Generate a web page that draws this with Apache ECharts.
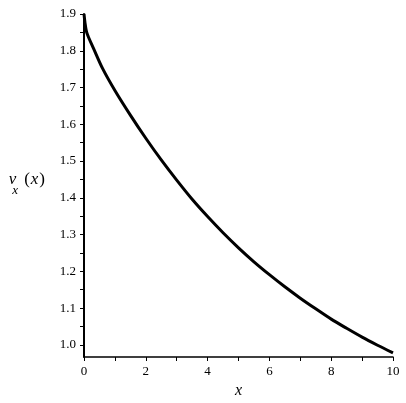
<!DOCTYPE html>
<html><head><meta charset="utf-8">
<script src="https://cdn.jsdelivr.net/npm/echarts@6/dist/echarts.min.js"></script>
<style>html,body{margin:0;padding:0;background:#fff}#c{width:406px;height:403px}</style>
</head><body><div id="c"></div>
<script>
// Data
const xValues = [0, 0.03, 0.08, 0.15, 0.3, 0.6, 1, 1.5, 2, 2.5, 3, 3.5, 4, 4.5, 5, 5.5, 6, 6.5, 7, 7.5, 8, 8.5, 9, 9.5, 10];
const vxValues = [1.900, 1.878, 1.852, 1.836, 1.808, 1.752, 1.692, 1.625, 1.562, 1.503, 1.448, 1.396, 1.349, 1.305, 1.264, 1.226, 1.191, 1.158, 1.127, 1.098, 1.070, 1.045, 1.021, 0.999, 0.978];
const yLabelTicks = [1.0, 1.1, 1.2, 1.3, 1.4, 1.5, 1.6, 1.7, 1.8, 1.9];
const yAllTicks = [1.0, 1.05, 1.1, 1.15, 1.2, 1.25, 1.3, 1.35, 1.4, 1.45, 1.5, 1.55, 1.6, 1.65, 1.7, 1.75, 1.8, 1.85, 1.9];
const xLabelTicks = [0, 2, 4, 6, 8, 10];
const yMin = 0.967, yMax = 1.9;

const FONT = 'Liberation Serif';
const chart = echarts.init(document.getElementById('c'), null, {renderer: 'canvas'});
chart.setOption({
  animation: false,
  backgroundColor: '#fff',
  grid: {left: 84, right: 13, top: 14, bottom: 46, containLabel: false, outerBoundsMode: 'none'},
  xAxis: {
    type: 'value', min: 0, max: 10, interval: 2,
    axisLine: {show: true, onZero: false, lineStyle: {color: '#000', width: 1.5}},
    axisTick: {show: true, length: 4, lineStyle: {color: '#000', width: 1}},
    minorTick: {show: true, splitNumber: 2, length: 4, lineStyle: {color: '#000', width: 1}},
    splitLine: {show: false},
    axisLabel: {color: '#000', fontFamily: FONT, fontSize: 13, margin: 8,
      customValues: xLabelTicks, formatter: v => String(v)},
    name: 'x', nameLocation: 'middle', nameGap: 24,
    nameTextStyle: {fontFamily: FONT, fontStyle: 'italic', fontSize: 16, color: '#000'}
  },
  yAxis: {
    type: 'value', min: yMin, max: yMax,
    axisLine: {show: true, onZero: false, lineStyle: {color: '#000', width: 2}},
    axisTick: {show: true, length: 4, customValues: yAllTicks, lineStyle: {color: '#000', width: 1}},
    splitLine: {show: false},
    axisLabel: {color: '#000', fontFamily: FONT, fontSize: 13, margin: 8,
      customValues: yLabelTicks, formatter: v => v.toFixed(1)},
    name: '{m|v}{s|x}{p|(}{m|x}{p|)}', nameLocation: 'middle', nameRotate: 0, nameGap: 38,
    nameTextStyle: {
      color: '#000',
      padding: [0, 0, 12, 0],
      rich: {
        m: {fontFamily: FONT, fontStyle: 'italic', fontSize: 17, lineHeight: 17, verticalAlign: 'top', color: '#000'},
        p: {fontFamily: FONT, fontSize: 17, lineHeight: 17, verticalAlign: 'top', color: '#000', padding: [0, 1, 0, 1]},
        s: {fontFamily: FONT, fontStyle: 'italic', fontSize: 13, lineHeight: 13, verticalAlign: 'top', padding: [13, 5, 0, -4], color: '#000'}
      }
    }
  },
  series: [{
    type: 'line',
    data: xValues.map((x, i) => [x, vxValues[i]]),
    showSymbol: false,
    smooth: 0.3,
    clip: false,
    lineStyle: {color: '#000', width: 3}
  }]
});
</script>
</body></html>
